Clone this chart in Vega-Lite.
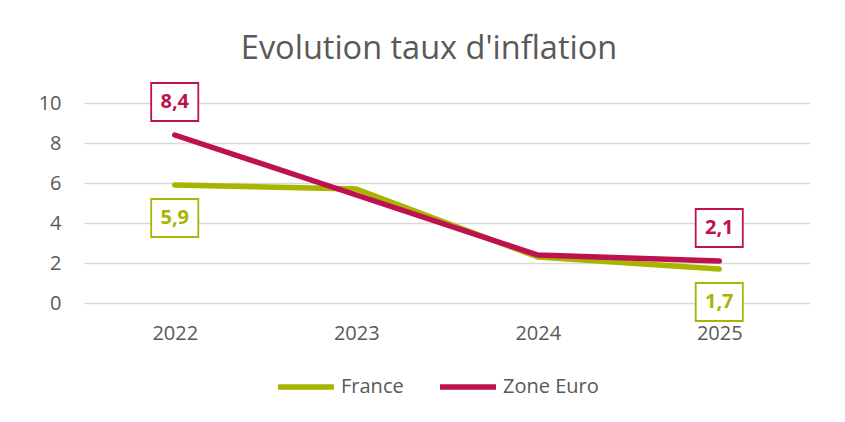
{
  "$schema": "https://vega.github.io/schema/vega-lite/v6.json",
  "width": 726,
  "height": 200,
  "autosize": {"type": "none"},
  "padding": {"left": 84, "top": 103, "right": 35, "bottom": 119},
  "background": "white",
  "config": {
    "view": {"stroke": null},
    "font": "Open Sans",
    "locale": {"number": {"decimal": ",", "thousands": " ", "grouping": [3], "currency": ["", " €"]}}
  },
  "title": {
    "text": "Evolution taux d'inflation",
    "font": "Open Sans",
    "fontSize": 32.5,
    "fontWeight": "normal",
    "color": "#595959",
    "anchor": "middle",
    "dx": -18,
    "offset": 14
  },
  "data": {
    "values": [
      {"year": "2022", "series": "France", "value": 5.9},
      {"year": "2023", "series": "France", "value": 5.7},
      {"year": "2024", "series": "France", "value": 2.3},
      {"year": "2025", "series": "France", "value": 1.7},
      {"year": "2022", "series": "Zone Euro", "value": 8.4},
      {"year": "2023", "series": "Zone Euro", "value": 5.4},
      {"year": "2024", "series": "Zone Euro", "value": 2.4},
      {"year": "2025", "series": "Zone Euro", "value": 2.1}
    ]
  },
  "encoding": {
    "x": {
      "field": "year",
      "type": "ordinal",
      "scale": {"type": "point", "padding": 0.5},
      "axis": {
        "title": null,
        "labelAngle": 0,
        "domain": false,
        "ticks": false,
        "tickSize": 0,
        "labelPadding": 20,
        "labelFontSize": 20,
        "labelColor": "#595959",
        "labelFont": "Open Sans"
      }
    },
    "y": {
      "field": "value",
      "type": "quantitative",
      "scale": {"domain": [0, 10], "nice": false},
      "axis": {
        "title": null,
        "values": [0, 2, 4, 6, 8, 10],
        "domain": false,
        "ticks": false,
        "tickSize": 0,
        "labelPadding": 23,
        "labelFontSize": 20,
        "labelColor": "#595959",
        "labelFont": "Open Sans",
        "gridColor": "#d9d9d9",
        "gridWidth": 1.5
      }
    }
  },
  "layer": [
    {
      "mark": {"type": "line", "strokeWidth": 5.5, "strokeCap": "round", "strokeJoin": "round"},
      "encoding": {
        "color": {
          "field": "series",
          "type": "nominal",
          "scale": {"domain": ["France", "Zone Euro"], "range": ["#A8B400", "#BE1250"]},
          "legend": {
            "title": null,
            "orient": "none",
            "legendX": 191,
            "legendY": 253,
            "direction": "horizontal",
            "symbolType": "stroke",
            "symbolSize": 3136,
            "symbolStrokeWidth": 5.5,
            "labelFontSize": 20,
            "labelColor": "#595959",
            "labelFont": "Open Sans",
            "labelOffset": 4,
            "columnPadding": 25
          }
        }
      }
    },
    {
      "transform": [{"filter": "datum.series == 'Zone Euro' && (datum.year == '2022' || datum.year == '2025')"}],
      "mark": {"type": "point", "shape": "M-1.24,-1L1.24,-1L1.24,1L-1.24,1Z", "size": 1444, "filled": false, "fill": "white", "fillOpacity": 1, "stroke": "#BE1250", "strokeWidth": 1.8, "opacity": 1, "yOffset": -33}
    },
    {
      "transform": [{"filter": "datum.series == 'France' && (datum.year == '2022' || datum.year == '2025')"}],
      "mark": {"type": "point", "shape": "M-1.24,-1L1.24,-1L1.24,1L-1.24,1Z", "size": 1444, "filled": false, "fill": "white", "fillOpacity": 1, "stroke": "#A8B400", "strokeWidth": 1.8, "opacity": 1, "yOffset": 33}
    },
    {
      "transform": [{"filter": "datum.series == 'Zone Euro' && (datum.year == '2022' || datum.year == '2025')"}],
      "mark": {"type": "text", "font": "Open Sans", "fontSize": 20, "fontWeight": "bold", "color": "#BE1250", "baseline": "middle", "dy": -33},
      "encoding": {"text": {"field": "value", "type": "quantitative", "format": ".1f"}}
    },
    {
      "transform": [{"filter": "datum.series == 'France' && (datum.year == '2022' || datum.year == '2025')"}],
      "mark": {"type": "text", "font": "Open Sans", "fontSize": 20, "fontWeight": "bold", "color": "#A8B400", "baseline": "middle", "dy": 33},
      "encoding": {"text": {"field": "value", "type": "quantitative", "format": ".1f"}}
    }
  ]
}
